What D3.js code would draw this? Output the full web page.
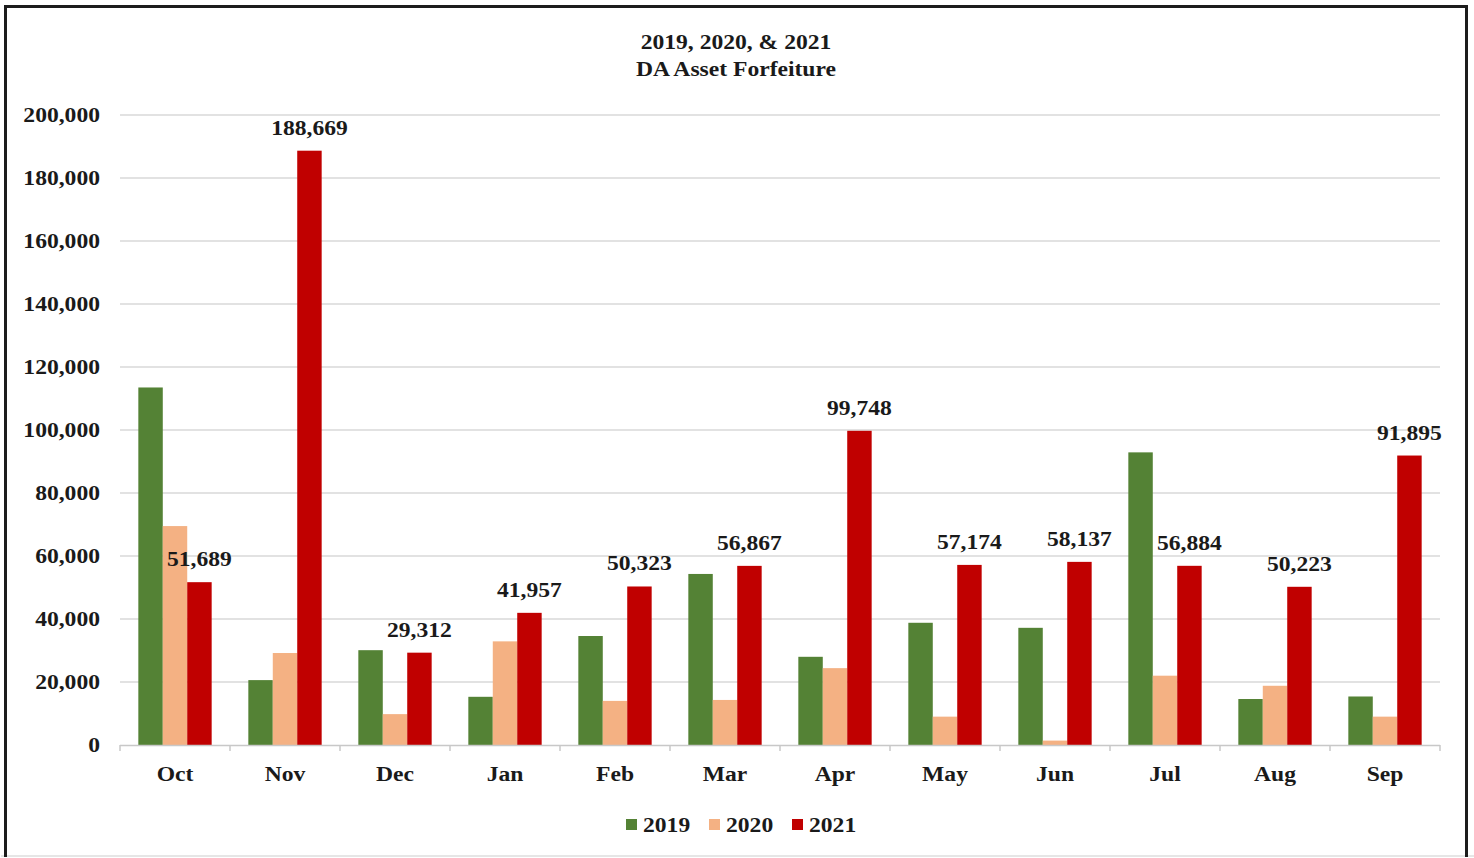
<!DOCTYPE html>
<html>
<head>
<meta charset="utf-8">
<script src="https://cdn.jsdelivr.net/npm/d3@7"></script>
<style>
  html, body { margin: 0; padding: 0; background: #ffffff; }
  svg { display: block; }
  text { font-family: "Liberation Serif", "Times New Roman", serif; font-weight: bold; fill: #1a1a1a; }
</style>
</head>
<body>
<svg id="chart" width="1474" height="858"></svg>
<script>
// Monthly DA asset forfeiture totals, fiscal-year order (Oct–Sep)
const months = ["Oct", "Nov", "Dec", "Jan", "Feb", "Mar", "Apr", "May", "Jun", "Jul", "Aug", "Sep"];
const seriesNames = ["2019", "2020", "2021"];
const values2019 = [113500, 20600, 30100, 15300, 34600, 54300, 28000, 38800, 37200, 92900, 14600, 15400];
const values2020 = [69500, 29200, 9800, 32900, 14000, 14300, 24400, 9000, 1400, 22000, 18800, 9000];
const values2021 = [51689, 188669, 29312, 41957, 50323, 56867, 99748, 57174, 58137, 56884, 50223, 91895];
const seriesColors = ["#548235", "#f4b183", "#c00000"];
const yTicks = [0, 20000, 40000, 60000, 80000, 100000, 120000, 140000, 160000, 180000, 200000];
const titleLines = ["2019, 2020, & 2021", "DA Asset Forfeiture"];

const svg = d3.select("#chart");
const W = 1474, H = 858;
const plot = { left: 120, right: 1440, top: 115, bottom: 745 };
const textScaleX = 1.18;
const fmt = d3.format(",");

const seriesValues = [values2019, values2020, values2021];

// frame around the chart
svg.append("line").attr("x1", 1).attr("x2", W).attr("y1", 856).attr("y2", 856)
  .attr("stroke", "#e6e6e6").attr("stroke-width", 2);
svg.append("path")
  .attr("d", `M5.5,857 V6.5 H1466.5 V857`)
  .attr("fill", "none").attr("stroke", "#1c1c1c").attr("stroke-width", 3);

// text helper: horizontally widened serif lettering
function label(g, x, y, str, size, anchor) {
  return g.append("text")
    .attr("transform", `translate(${x},${y}) scale(${textScaleX},1)`)
    .attr("text-anchor", anchor || "middle")
    .attr("font-size", size)
    .text(str);
}

// title
label(svg, 736, 49, titleLines[0], 20);
label(svg, 736, 76, titleLines[1], 20);

const x0 = d3.scaleBand().domain(months).range([plot.left, plot.right])
  .paddingInner(1 / 3).paddingOuter(1 / 6);
const x1 = d3.scaleBand().domain(seriesNames).range([0, x0.bandwidth()]);
const y = d3.scaleLinear().domain([0, 200000]).range([plot.bottom, plot.top]);

// gridlines
svg.append("g").selectAll("line")
  .data(yTicks.filter(d => d > 0))
  .join("line")
  .attr("x1", plot.left).attr("x2", plot.right)
  .attr("y1", d => y(d)).attr("y2", d => y(d))
  .attr("stroke", "#d9d9d9").attr("stroke-width", 1.5);

// y tick labels
const yLab = svg.append("g");
yTicks.forEach(t => {
  label(yLab, 100, y(t) + 7, fmt(t), 20, "end");
});

// bars
const groups = svg.append("g").selectAll("g")
  .data(months)
  .join("g")
  .attr("transform", d => `translate(${x0(d)},0)`);

groups.selectAll("rect")
  .data((m, i) => seriesNames.map((s, k) => ({ s, v: seriesValues[k][i], c: seriesColors[k] })))
  .join("rect")
  .attr("x", d => x1(d.s))
  .attr("width", x1.bandwidth())
  .attr("y", d => y(d.v))
  .attr("height", d => y(0) - y(d.v))
  .attr("fill", d => d.c);

// value labels on the 2021 bars
const vLab = svg.append("g");
months.forEach((m, i) => {
  const cx = x0(m) + x1("2021") + x1.bandwidth() / 2;
  label(vLab, cx, y(values2021[i]) - 16, fmt(values2021[i]), 20);
});

// category axis
const xAxisG = svg.append("g");
xAxisG.append("line")
  .attr("x1", plot.left).attr("x2", plot.right)
  .attr("y1", plot.bottom + 0.5).attr("y2", plot.bottom + 0.5)
  .attr("stroke", "#c8c8c8").attr("stroke-width", 1.5);
const step = x0.step();
d3.range(months.length + 1).forEach(i => {
  const xx = plot.left + i * step;
  xAxisG.append("line")
    .attr("x1", xx).attr("x2", xx)
    .attr("y1", plot.bottom).attr("y2", plot.bottom + 6)
    .attr("stroke", "#c8c8c8").attr("stroke-width", 1.5);
});
months.forEach(m => {
  label(xAxisG, x0(m) + x0.bandwidth() / 2, 781, m, 20);
});

// legend
const legendItems = [
  { name: seriesNames[0], color: seriesColors[0], x: 626 },
  { name: seriesNames[1], color: seriesColors[1], x: 709 },
  { name: seriesNames[2], color: seriesColors[2], x: 792 }
];
const leg = svg.append("g");
legendItems.forEach(it => {
  leg.append("rect").attr("x", it.x).attr("y", 819).attr("width", 11).attr("height", 11).attr("fill", it.color);
  label(leg, it.x + 17, 832, it.name, 20, "start");
});
</script>
</body>
</html>
